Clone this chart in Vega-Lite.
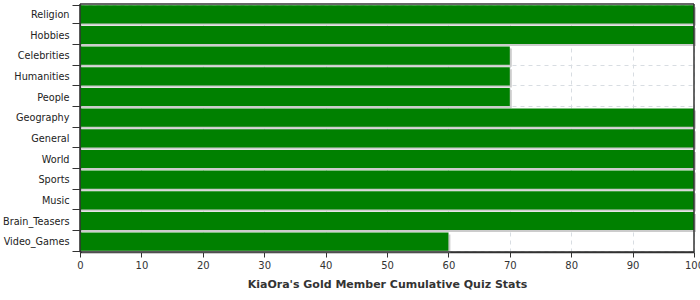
{
  "$schema": "https://vega.github.io/schema/vega-lite/v6.json",
  "width": 614,
  "height": 248,
  "autosize": {"type": "none"},
  "padding": {"left": 80, "top": 4, "right": 6, "bottom": 48},
  "background": "white",
  "config": {
    "font": "DejaVu Sans",
    "view": {"stroke": null}
  },
  "data": {
    "values": [
      {"category": "Religion", "value": 100},
      {"category": "Hobbies", "value": 100},
      {"category": "Celebrities", "value": 70},
      {"category": "Humanities", "value": 70},
      {"category": "People", "value": 70},
      {"category": "Geography", "value": 100},
      {"category": "General", "value": 100},
      {"category": "World", "value": 100},
      {"category": "Sports", "value": 100},
      {"category": "Music", "value": 100},
      {"category": "Brain_Teasers", "value": 100},
      {"category": "Video_Games", "value": 60}
    ]
  },
  "layer": [
    {
      "mark": {"type": "bar", "color": "#cccccc", "xOffset": 2, "yOffset": 2},
      "encoding": {
        "y": {
          "field": "category",
          "type": "nominal",
          "sort": null,
          "scale": {"paddingInner": 0.12, "paddingOuter": 0.06},
          "axis": {
            "title": null,
            "tickBand": "extent",
            "grid": true,
            "gridDash": [4, 4],
            "gridColor": "#d8dde2",
            "tickSize": 8,
            "tickColor": "#333333",
            "domainColor": "#333333",
            "domainWidth": 1.5,
            "labelColor": "#222222",
            "labelFontSize": 9.7,
            "labelPadding": 3
          }
        },
        "x": {
          "field": "value",
          "type": "quantitative",
          "scale": {"domain": [0, 100], "nice": false},
          "axis": {
            "values": [0, 10, 20, 30, 40, 50, 60, 70, 80, 90, 100],
            "title": "KiaOra's Gold Member Cumulative Quiz Stats",
            "titleFontSize": 11,
            "titleFontWeight": "bold",
            "titleColor": "#333333",
            "titlePadding": 8,
            "grid": true,
            "gridDash": [4, 4],
            "gridColor": "#d8dde2",
            "tickSize": 5,
            "tickColor": "#333333",
            "domainColor": "#333333",
            "domainWidth": 1.5,
            "labelColor": "#333333",
            "labelFontSize": 10,
            "labelPadding": 3,
            "labelFlush": false,
            "labelOverlap": false
          }
        }
      }
    },
    {
      "mark": {"type": "bar", "color": "#008000"},
      "encoding": {
        "y": {"field": "category", "type": "nominal", "sort": null},
        "x": {"field": "value", "type": "quantitative"}
      }
    },
    {
      "data": {"values": [{}]},
      "mark": {"type": "rule", "color": "#333333", "strokeWidth": 1.5},
      "encoding": {"x": {"datum": 0}}
    },
    {
      "data": {"values": [{}]},
      "mark": {"type": "rule", "color": "#333333", "strokeWidth": 1.5},
      "encoding": {"x": {"datum": 100}}
    },
    {
      "data": {"values": [{}]},
      "mark": {"type": "rule", "color": "#333333", "strokeWidth": 1.5},
      "encoding": {"y": {"datum": "Religion", "bandPosition": -0.0682}}
    },
    {
      "data": {"values": [{}]},
      "mark": {"type": "rule", "color": "#333333", "strokeWidth": 1.5},
      "encoding": {"y": {"datum": "Video_Games", "bandPosition": 1.0682}}
    }
  ]
}
